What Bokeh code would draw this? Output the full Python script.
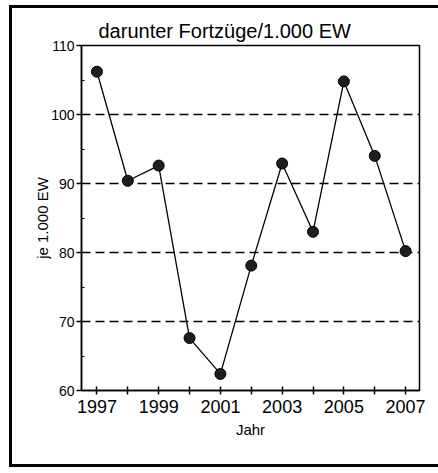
from bokeh.plotting import figure
from bokeh.models import FixedTicker, Range1d
from bokeh.embed import file_html
from bokeh.resources import INLINE

title_text = "darunter Fortzüge/1.000 EW"
x_label = "Jahr"
y_label = "je 1.000 EW"
years = [1997, 1998, 1999, 2000, 2001, 2002, 2003, 2004, 2005, 2006, 2007]
values = [106.2, 90.4, 92.6, 67.6, 62.4, 78.1, 92.9, 83.0, 104.8, 94.0, 80.2]
y_ticks = [60, 70, 80, 90, 100, 110]
y_minor = [65, 75, 85, 95, 105]
grid_levels = [70, 80, 90, 100]
labelled_years = [1997, 1999, 2001, 2003, 2005, 2007]

FONT = "Liberation Sans"

p = figure(width=426, height=456, output_backend="svg", toolbar_location=None,
           x_range=Range1d(1996.5, 2007.45), y_range=Range1d(60, 110),
           min_border_left=69, min_border_right=22, min_border_top=37, min_border_bottom=80)
p.styles = {"border-left": "3px solid black", "border-top": "3px solid black",
            "border-bottom": "3px solid black", "border-right": "0px none",
            "box-sizing": "content-box", "outline": "none", "box-shadow": "none",
            "margin-left": "9px", "margin-top": "5px"}
p.title.text = title_text
p.title.align = "left"
p.title.offset = 17
p.title.text_font = FONT
p.title.text_font_size = "20px"
p.title.text_font_style = "normal"
p.title.text_color = "black"
p.title.standoff = 7

p.outline_line_color = "black"
p.outline_line_width = 1.5
p.background_fill_color = "white"
p.border_fill_color = "white"

xa = p.xaxis[0]
xa.ticker = FixedTicker(ticks=years)
xa.major_label_overrides = {y: (str(y) if y in labelled_years else "") for y in years}
xa.major_tick_in = 4
xa.major_tick_out = 4
xa.minor_tick_line_color = None
xa.major_label_text_font = FONT
xa.major_label_text_font_size = "18px"
xa.major_label_text_color = "black"
xa.major_label_standoff = 5
xa.axis_label = x_label
xa.axis_label_text_font = FONT
xa.axis_label_text_font_size = "15px"
xa.axis_label_text_font_style = "normal"
xa.axis_label_text_color = "black"
xa.axis_label_standoff = 5
xa.axis_line_width = 1.5
xa.major_tick_line_width = 1.5

ya = p.yaxis[0]
ya.ticker = FixedTicker(ticks=y_ticks, minor_ticks=y_minor)
ya.major_tick_in = 0
ya.major_tick_out = 5
ya.minor_tick_in = 3
ya.minor_tick_out = 0
ya.major_label_text_font = FONT
ya.major_label_text_font_size = "14px"
ya.major_label_text_color = "black"
ya.major_label_standoff = 2
ya.axis_label = y_label
ya.axis_label_text_font = FONT
ya.axis_label_text_font_size = "15px"
ya.axis_label_text_font_style = "normal"
ya.axis_label_text_color = "black"
ya.axis_label_standoff = -3
ya.axis_line_width = 1.5
ya.major_tick_line_width = 1.5

p.xgrid.grid_line_color = None
p.ygrid.ticker = FixedTicker(ticks=grid_levels)
p.ygrid.grid_line_color = "black"
p.ygrid.grid_line_width = 1.5
p.ygrid.grid_line_dash = "9 5"

p.line(years, values, line_color="black", line_width=1.3)
p.scatter(years, values, size=11, fill_color="#1e1e1e", line_color="black", line_width=1)

open("out.html", "w").write(file_html(p, INLINE))
